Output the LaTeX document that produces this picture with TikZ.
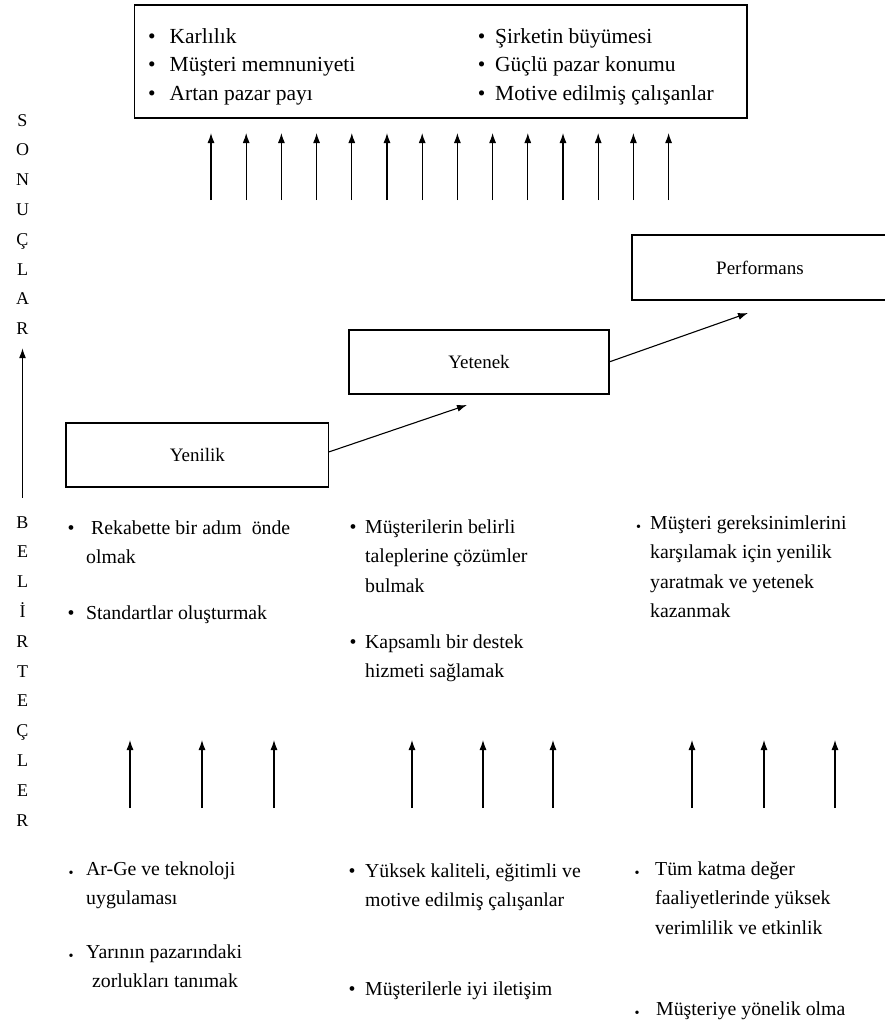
\documentclass[tikz,border=0pt]{standalone}
\usepackage{fontspec}
\setmainfont{Liberation Serif}
\usetikzlibrary{arrows.meta}

% bullet centred a given distance left of the text start
\newcommand{\bl}[1]{\llap{\makebox[0pt]{•}\hspace{#1}}}
% small bullet sitting near the baseline
\newcommand{\lbl}[1]{\llap{\makebox[0pt]{\raisebox{-0.12em}{\scalebox{0.72}{•}}}\hspace{#1}}}
% stacked lines, baseline of the node = baseline of the first line
\newcommand{\txtlines}[1]{\begin{tabular}[t]{@{}l@{}}#1\end{tabular}}
\newcommand{\txtcol}[1]{\begin{tabular}[t]{@{}c@{}}#1\end{tabular}}

\tikzset{
  box/.style={draw, line width=1.3pt, inner sep=0pt, outer sep=0pt,
              font=\fontsize{19}{22}\selectfont},
  up/.style={-{Latex[length=10pt,width=7pt]}, line width=1.1pt},
  diag/.style={-{Latex[length=10pt,width=7pt]}, line width=1.1pt},
  txt/.style={anchor=base west, inner sep=0pt, font=\fontsize{19.8}{29.5}\selectfont},
  toptxt/.style={anchor=base west, inner sep=0pt, font=\fontsize{21.5}{28.5}\selectfont},
  letters/.style={anchor=base, inner sep=0pt, font=\fontsize{18}{29.8}\selectfont},
}

\begin{document}
\begin{tikzpicture}[x=1pt,y=-1pt]
\useasboundingbox (0,0) rectangle (885,1026);

% ---- results box ----
\node[box, minimum width=612.5pt, minimum height=113pt] (res) at (440.75,61.5) {};
\node[toptxt] (resL) at (169.5,43) {\txtlines{\bl{17.8pt}Karlılık\\
  \bl{17.8pt}Müşteri memnuniyeti\\
  \bl{17.8pt}Artan pazar payı}};
\node[toptxt] (resR) at (495,43) {\txtlines{\bl{13.5pt}Şirketin büyümesi\\
  \bl{13.5pt}Güçlü pazar konumu\\
  \bl{13.5pt}Motive edilmiş çalışanlar}};

% arrows feeding the results
\foreach \i in {0,...,13}{
  \coordinate (ta\i) at ({211+35.2*\i},200);
  \coordinate (tb\i) at ({211+35.2*\i},133);
  \draw[up] (ta\i) -- (tb\i);
}

% ---- left axis ----
\node[letters] (son) at (22.5,126) {\txtcol{S\\O\\N\\U\\Ç\\L\\A\\R}};
\node[letters] (bel) at (22.5,528) {\txtcol{B\\E\\L\\İ\\R\\T\\E\\Ç\\L\\E\\R}};
\draw[up, shorten <=9pt, shorten >=4.5pt] (bel.north) -- (son.south);

% ---- staircase ----
\node[box, minimum width=262.7pt, minimum height=64pt] (yen) at (197.35,455) {Yenilik};
\node[box, minimum width=260pt, minimum height=64pt] (yet) at (479,362) {Yetenek};
\node[box, minimum width=256pt, minimum height=65pt] (perf) at (760,267.5) {Performans};
\coordinate (yetIn) at (467,405);
\coordinate (perfIn) at (748,313);
\draw[diag] ([yshift=3pt]yen.east) -- (yetIn);
\draw[diag] (yet.east) -- (perfIn);

% ---- middle lists ----
\node[txt] (m1a) at (86,534) {\txtlines{\bl{15pt}\hspace{5pt}Rekabette bir adım\ \ önde\\olmak}};
\node[txt] (m1b) at (86,619) {\txtlines{\bl{15pt}Standartlar oluşturmak}};
\node[txt] (m2a) at (365,533) {\txtlines{\bl{12pt}Müşterilerin belirli\\taleplerine çözümler\\bulmak}};
\node[txt] (m2b) at (365,648) {\txtlines{\bl{12pt}Kapsamlı bir destek\\hizmeti sağlamak}};
\node[txt] (m3) at (650,529) {\txtlines{\lbl{11.5pt}Müşteri gereksinimlerini\\karşılamak için yenilik\\yaratmak ve yetenek\\kazanmak}};

% arrows from the indicators
\foreach \x [count=\k] in {130,202,274,412,483,553,692,764,835}{
  \coordinate (ba\k) at (\x,808);
  \coordinate (bb\k) at (\x,740);
  \draw[up] (ba\k) -- (bb\k);
}

% ---- bottom lists ----
\node[txt] (b1a) at (86,875) {\txtlines{\lbl{15pt}Ar-Ge ve teknoloji\\uygulaması}};
\node[txt] (b1b) at (86,958) {\txtlines{\lbl{15pt}Yarının pazarındaki\\\hspace{6pt}zorlukları tanımak}};
\node[txt] (b2a) at (365,877) {\txtlines{\bl{13pt}Yüksek kaliteli, eğitimli ve\\motive edilmiş çalışanlar}};
\node[txt] (b2b) at (365,995) {\txtlines{\bl{13pt}Müşterilerle iyi iletişim}};
\node[txt] (b3a) at (655,875) {\txtlines{\lbl{18pt}Tüm katma değer\\faaliyetlerinde yüksek\\verimlilik ve etkinlik}};
\node[txt] (b3b) at (656,1015) {\txtlines{\lbl{19pt}Müşteriye yönelik olma}};
\end{tikzpicture}
\end{document}
